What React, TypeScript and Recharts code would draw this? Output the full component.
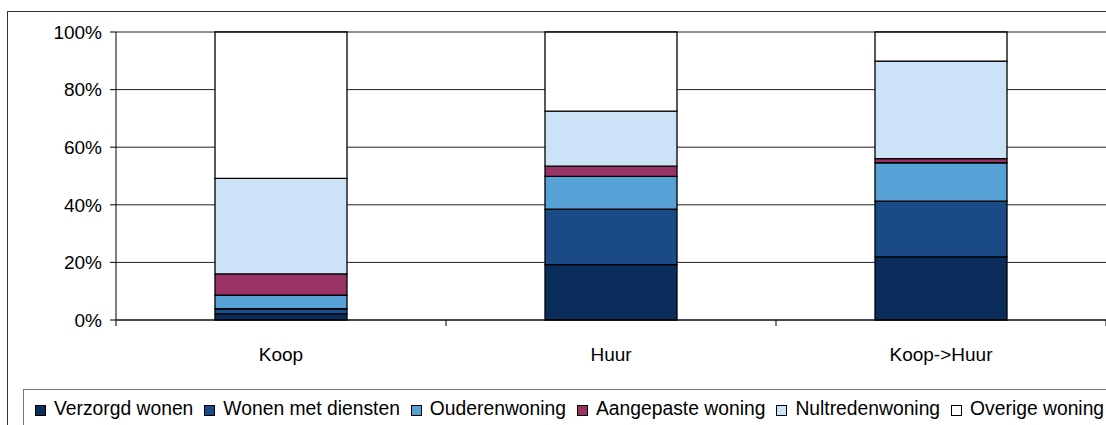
import { Bar, BarChart, CartesianGrid, XAxis, YAxis } from 'recharts'

const categories = ['Koop', 'Huur', 'Koop->Huur']

const seriesNames = [
    'Verzorgd wonen',
    'Wonen met diensten',
    'Ouderenwoning',
    'Aangepaste woning',
    'Nultredenwoning',
    'Overige woning',
]
const seriesColors = ['#0b2d5b', '#1b4b87', '#56a2d6', '#993366', '#cce3f7', '#ffffff']

// share per category (%), bottom to top
const verzorgd = [2.1, 19.2, 21.9]
const wonenMetDiensten = [1.8, 19.3, 19.4]
const ouderenwoning = [4.7, 11.4, 13.3]
const aangepast = [7.4, 3.5, 1.4]
const nultreden = [33.2, 19.1, 33.9]
const overige = [50.8, 27.5, 10.1]

const yTicks = [0, 20, 40, 60, 80, 100]

const seriesValues = [verzorgd, wonenMetDiensten, ouderenwoning, aangepast, nultreden, overige]
const keys = ['s0', 's1', 's2', 's3', 's4', 's5']

const data = categories.map((name, i) => {
    const row: Record<string, string | number> = { name }
    seriesValues.forEach((vals, s) => {
        row[keys[s]] = vals[i]
    })
    return row
})

const font = '"Liberation Sans", Arial, sans-serif'

// category label plus the small tick marks on the band edges
const CategoryTick = (props: any) => {
    const { x, y, payload, index } = props
    const half = payload.offset ?? 0
    const axisY = y - 28
    return (
        <g>
            {index === 0 && <line x1={x - half} x2={x - half} y1={axisY} y2={axisY + 6} stroke="#000" />}
            <line x1={x + half} x2={x + half} y1={axisY} y2={axisY + 6} stroke="#000" />
            <text x={x} y={y} dy="0.71em" textAnchor="middle" fill="#000" fontSize={19} fontFamily={font}>
                {payload.value}
            </text>
        </g>
    )
}

const ChartLegend = () => (
    <div
        style={{
            position: 'absolute',
            left: 23,
            top: 389,
            width: 1200,
            height: 60,
            border: '1px solid #777',
            padding: '8px 0 0 11px',
            boxSizing: 'border-box',
        }}
    >
        <div style={{ display: 'flex', alignItems: 'center', whiteSpace: 'nowrap', fontSize: 19.3, lineHeight: '22px' }}>
            {seriesNames.map((n, i) => (
                <span key={n} style={{ display: 'flex', alignItems: 'center', marginRight: 11 }}>
                    <span
                        style={{
                            display: 'inline-block',
                            width: 9,
                            height: 9,
                            border: '1px solid #000',
                            background: seriesColors[i],
                            marginRight: 8,
                            marginTop: 2,
                        }}
                    />
                    <span>{n}</span>
                </span>
            ))}
        </div>
    </div>
)

const App = () => {
    return (
        <div style={{ position: 'absolute', left: 0, top: 0, width: 1106, height: 425, overflow: 'hidden', fontFamily: font, background: '#fff' }}>
            <div style={{ position: 'absolute', left: 7, top: 11, width: 1130, height: 440, border: '1px solid #333' }} />
            <div style={{ position: 'absolute', left: 0, top: 0 }}>
                <BarChart
                    width={1140}
                    height={380}
                    data={data}
                    margin={{ top: 32, right: 34, left: 0, bottom: 20 }}
                    barCategoryGap="30%"
                >
                    <CartesianGrid vertical={false} stroke="#222" />
                    <XAxis
                        dataKey="name"
                        height={40}
                        axisLine={{ stroke: '#000' }}
                        tickLine={false}
                        tickSize={6}
                        tickMargin={22}
                        tick={<CategoryTick />}
                    />
                    <YAxis
                        width={116}
                        domain={[0, 100]}
                        ticks={yTicks}
                        tickFormatter={(v: number) => `${v}%`}
                        axisLine={{ stroke: '#000' }}
                        tickLine={{ stroke: '#000' }}
                        tickSize={6}
                        tickMargin={8}
                        tick={{ fill: '#000', fontSize: 19, fontFamily: font }}
                    />
                    {keys.map((k, i) => (
                        <Bar
                            key={k}
                            dataKey={k}
                            name={seriesNames[i]}
                            stackId="a"
                            fill={seriesColors[i]}
                            stroke="#000"
                            strokeWidth={1.3}
                            isAnimationActive={false}
                        />
                    ))}
                </BarChart>
            </div>
            <ChartLegend />
        </div>
    )
}

export default App
